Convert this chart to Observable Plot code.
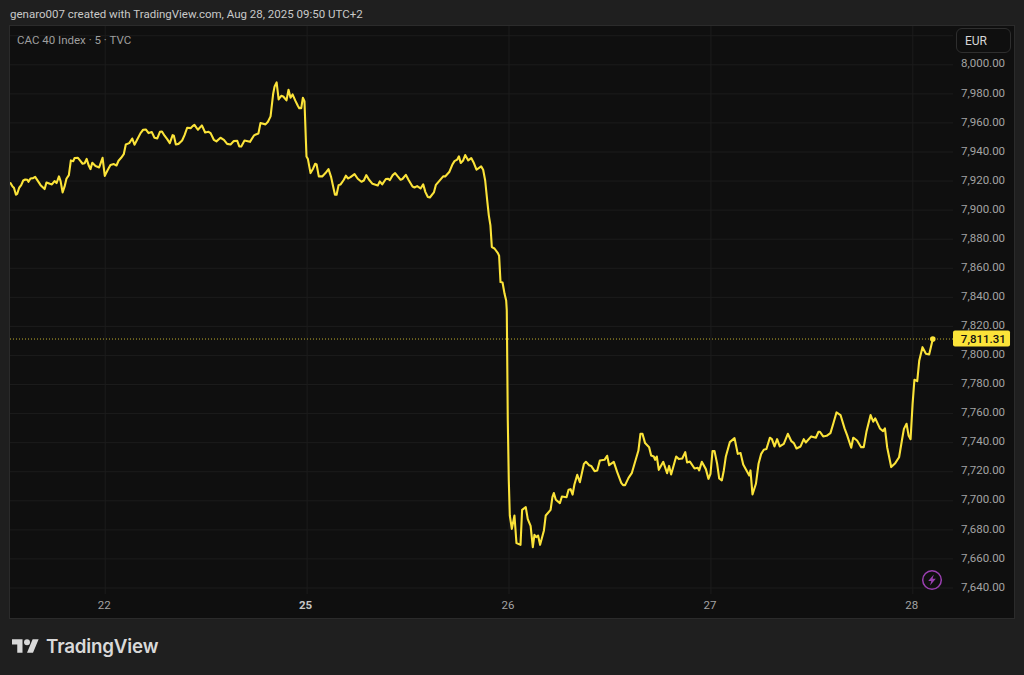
<!DOCTYPE html>
<html>
<head>
<meta charset="utf-8">
<script src="https://cdn.jsdelivr.net/npm/d3@7"></script>
<script src="https://cdn.jsdelivr.net/npm/@observablehq/plot@0.6"></script>
<style>
  html, body { margin: 0; padding: 0; background: #1f1f1f; width: 1024px; height: 675px; overflow: hidden; font-family: Roboto, sans-serif; }
  #header { height: 25px; line-height: 29px; padding-left: 10px; font-size: 11.5px; color: #c9c9c9; box-sizing: border-box; }
  #panel { position: relative; margin-left: 9px; width: 1004px; height: 592px; border: 1px solid #2b2b2b; background: #0f0f0f; }
  #panel svg { display: block; }
  #legend { position: absolute; left: 7px; top: 7px; font-size: 11.5px; color: #9e9e9e; }
  #currency { position: absolute; left: 946px; top: 2px; width: 55px; height: 25px; box-sizing: border-box; border: 1px solid #2e2e2e; border-radius: 6px; font-size: 12px; line-height: 25px; padding-left: 8px; color: #d6d6d6; background: #0f0f0f; }
  #bolt { position: absolute; left: 910px; top: 542px; }
  #footer { position: relative; height: 56px; }
  #footer svg { position: absolute; left: 12px; top: 20px; }
  #brand { position: absolute; left: 46px; top: 15px; font: 600 18.8px/26px Inter, sans-serif; color: #d9d9d9; letter-spacing: -0.2px; }
</style>
</head>
<body>
<div id="header">genaro007 created with TradingView.com, Aug 28, 2025 09:50 UTC+2</div>
<div id="panel">
  <div id="chart"></div>
  <div id="legend">CAC 40 Index · 5 · TVC</div>
  <div id="currency">EUR</div>
  <svg id="bolt" width="24" height="24" viewBox="0 0 24 24"><circle cx="12" cy="12" r="9.3" fill="none" stroke="#9a3fb0" stroke-width="1.5"/><path d="M13.8 6.5 L8.2 13 H11.3 L10 17.5 L15.8 10.8 H12.6 Z" fill="#9a3fb0"/></svg>
</div>
<div id="footer">
  <svg width="27" height="14" viewBox="0 4 36 18"><path fill="#d9d9d9" d="M14 22H7V11H0V4h14v18zM28 22h-8l7.5-18h8L28 22z"/><circle fill="#d9d9d9" cx="20" cy="8" r="4"/></svg>
  <div id="brand">TradingView</div>
</div>
<script>
const sessionTicks = [0, 1, 2, 3, 4];
const sessionLabels = ["22", "25", "26", "27", "28"];
const priceTicks = [7640, 7660, 7680, 7700, 7720, 7740, 7760, 7780, 7800, 7820, 7840, 7860, 7880, 7900, 7920, 7940, 7960, 7980, 8000];
const gridPrices = [...priceTicks, 8020];
const lastPrice = 7811.31;

const sessionPos = [
-0.469,-0.459,-0.452,-0.442,-0.436,-0.426,-0.416,-0.406,-0.396,-0.386,-0.380,-0.370,-0.357,-0.347,-0.333,-0.320,-0.300,-0.291,-0.274,-0.264,-0.251,-0.241,-0.229,-0.221,-0.211,-0.201,-0.192,-0.180,-0.170,-0.158,-0.152,-0.135,-0.125,-0.112,-0.102,-0.092,-0.081,-0.073,-0.064,-0.048,-0.030,-0.013,-0.002,
0.013,0.026,0.043,0.056,0.066,0.079,0.092,0.102,0.119,0.134,0.145,0.158,0.175,0.188,0.201,0.215,0.231,0.244,0.258,0.271,0.281,0.294,0.307,0.320,0.334,0.340,0.350,0.363,0.381,0.393,0.406,0.423,0.433,0.442,0.459,0.479,0.495,0.512,0.522,0.538,0.551,0.571,0.588,0.604,0.621,0.637,0.654,0.664,0.674,0.690,0.717,0.736,0.746,0.759,0.769,0.794,0.806,0.819,0.832,0.839,0.849,0.859,0.872,0.882,0.898,0.908,0.918,0.928,0.941,0.954,0.961,0.971,0.979,0.987,0.994,0.997,
1.004,1.017,1.030,1.040,1.047,1.058,1.075,1.091,1.106,1.119,1.129,1.138,1.146,1.156,1.166,1.182,1.192,1.202,1.215,1.235,1.251,1.269,1.281,1.293,1.307,1.324,1.350,1.360,1.372,1.390,1.400,1.410,1.423,1.436,1.449,1.463,1.472,1.489,1.502,1.522,1.532,1.545,1.562,1.575,1.586,1.598,1.608,1.628,1.638,1.654,1.674,1.684,1.704,1.719,1.730,1.743,1.752,1.761,1.773,1.783,1.798,1.813,1.826,1.839,1.862,1.872,1.882,1.892,1.900,1.908,1.915,1.928,1.945,1.951,1.958,1.968,1.978,1.986,1.989,1.994,1.999,
2.004,2.014,2.027,2.037,2.057,2.065,2.083,2.093,2.107,2.118,2.126,2.135,2.144,2.154,2.173,2.182,2.206,2.215,2.222,2.232,2.252,2.262,2.285,2.295,2.305,2.315,2.324,2.338,2.351,2.371,2.381,2.397,2.407,2.424,2.437,2.450,2.473,2.486,2.496,2.519,2.536,2.556,2.565,2.575,2.592,2.608,2.641,2.651,2.661,2.674,2.694,2.704,2.717,2.724,2.732,2.742,2.764,2.783,2.793,2.803,2.828,2.841,2.858,2.873,2.882,2.896,2.919,2.935,2.942,2.955,2.975,2.988,2.998,
3.008,3.018,3.031,3.041,3.054,3.064,3.074,3.094,3.117,3.133,3.147,3.160,3.190,3.196,3.206,3.223,3.236,3.249,3.262,3.275,3.292,3.302,3.315,3.328,3.341,3.361,3.381,3.398,3.411,3.424,3.444,3.460,3.470,3.497,3.520,3.533,3.540,3.556,3.573,3.592,3.606,3.622,3.642,3.662,3.675,3.695,3.705,3.724,3.744,3.757,3.771,3.791,3.804,3.814,3.837,3.853,3.862,3.873,3.893,3.913,3.932,3.946,3.956,3.969,3.979,3.989,3.999,
4.008,4.022,4.032,4.048,4.065,4.081,4.099];

const price = [
7918.6,7916.3,7915.4,7910.6,7911.2,7915.4,7917.2,7920.4,7921.1,7920.9,7919.5,7921.8,7922,7922.9,7920,7917.2,7914.5,7919,7918.1,7917.7,7920,7918.6,7923.2,7920,7912.2,7916.3,7921.6,7924.1,7934.2,7933.7,7935.8,7936,7934.2,7931.9,7932.3,7935.3,7930.5,7928.2,7932.6,7930.3,7929.4,7936,7923.6,
7927.8,7931,7931.7,7930.7,7934,7936,7938.5,7945.2,7946.1,7949.3,7945,7948.4,7953,7955.3,7955.5,7953,7953.7,7949.8,7949.3,7953.9,7954.1,7951.2,7948.9,7946.1,7951.6,7951.2,7945.2,7945.6,7947.9,7951.6,7956.7,7956.4,7957.8,7958.7,7955.3,7958.3,7953.4,7953.9,7953,7948.4,7947.3,7949.8,7948.4,7945.6,7945.2,7947.5,7947.7,7943.8,7943.8,7947.9,7947,7951.2,7952.1,7952.8,7959.9,7959,7960.8,7964.5,7980.1,7985.1,7987.9,7976.2,7978.7,7978.2,7975.5,7982.8,7977.3,7979.6,7975.5,7971.8,7970.2,7970.2,7977.3,7975,7947.9,7936.9,
7935.1,7925.5,7928.7,7931.9,7931.4,7923.2,7923.2,7925.5,7928.2,7922.7,7916.3,7910.6,7910.6,7917.2,7917.7,7920.9,7923.7,7921.8,7922.7,7924.8,7921.6,7919.5,7920.4,7924.1,7920.9,7918.1,7917,7919.8,7917.7,7921.4,7921.6,7920.7,7923.9,7925.5,7923.2,7920.9,7921.4,7924.3,7920.9,7916.3,7915.6,7916.5,7914.9,7917.7,7912.4,7909,7908.7,7912.2,7917.4,7920,7923.2,7923.2,7926.2,7931.2,7933.7,7934.7,7937,7932.4,7934.2,7937.9,7934.2,7935.8,7932.4,7927.8,7930.1,7927.8,7920.4,7906.7,7896.4,7889.5,7874.6,7873.6,7870.4,7868.6,7850.5,7850.2,7842.4,7837.9,7831,7755.3,7714,
7689.9,7680.7,7689.9,7670.9,7669.7,7693.8,7695.6,7687.4,7682.8,7668.1,7676.6,7675,7676.1,7669.7,7679.6,7689.9,7693.8,7702.5,7705.3,7700.7,7698.4,7703,7702.5,7707.6,7708,7704.3,7711.2,7717.9,7712.8,7725.4,7726.8,7724.5,7724,7720.4,7720.9,7727.7,7728.2,7731,7724.5,7726.8,7719.7,7712.4,7710.8,7710.8,7715.8,7719,7734.6,7746.1,7746.1,7739.7,7736.9,7731.2,7730.5,7728.2,7730.5,7721.3,7726.8,7719,7724,7718.1,7730.5,7728.7,7729.1,7733.5,7726.4,7727,7722.2,7722.7,7720.9,7726.8,7721.8,7715.1,7718.6,
7734.2,7734.2,7725.4,7715.4,7714,7720.9,7730.5,7740.4,7743.1,7732.3,7732.8,7725,7717.4,7720.9,7704.4,7711.7,7725.5,7732.3,7735.1,7735.6,7743.4,7742.4,7737.4,7742.4,7737.4,7739.2,7746.1,7741.1,7739.7,7736,7737.4,7742.4,7740.1,7744.3,7743.4,7747.5,7747.5,7744.3,7744.7,7746.6,7753,7760.8,7759,7749.8,7745,7736.5,7743.4,7741.5,7736.9,7736.9,7747.9,7759,7754.4,7756.7,7749.8,7747.9,7749.8,7736.9,7723.2,7725.9,7730,7741.5,7749.5,7753,7745,7742.4,7766.7,
7783.3,7782.3,7796.6,7805.7,7801.2,7800.7,7811.31];

const series = sessionPos.map((s, i) => ({ s, p: price[i] }));
const labelOf = d3.scaleOrdinal(sessionTicks, sessionLabels);
const yellow = "#fbe339";
const gridColor = "#1c1c1c";
const tickColor = "#a3a3a3";

const chart = Plot.plot({
  width: 1004, height: 592,
  marginLeft: 0, marginRight: 61, marginTop: 0, marginBottom: 24,
  style: { background: "transparent", fontFamily: "Roboto, sans-serif", fontSize: "11.5px" },
  x: { domain: [0, 4], range: [94.7, 902.3] },
  y: { domain: [7640, 8000], range: [561.5, 38.3] },
  marks: [
    Plot.gridY(gridPrices, { stroke: gridColor, strokeOpacity: 1, strokeWidth: 1 }),
    Plot.gridX(sessionTicks, { stroke: gridColor, strokeOpacity: 1, strokeWidth: 1 }),
    Plot.axisY({ anchor: "right", ticks: priceTicks, tickSize: 0, tickPadding: 7.5, dy: -1, tickFormat: d3.format(",.2f"), color: tickColor, label: null }),
    Plot.axisX({ ticks: [0, 2, 3, 4], tickSize: 0, tickPadding: 6, dx: -1, tickFormat: labelOf, color: tickColor, label: null }),
    Plot.axisX({ ticks: [1], tickSize: 0, tickPadding: 6, dx: -1.5, tickFormat: labelOf, color: "#c4c4c4", fontWeight: "bold", label: null }),
    Plot.ruleY([lastPrice], { stroke: yellow, strokeOpacity: 0.75, strokeWidth: 1, strokeDasharray: "1 2" }),
    Plot.line(series, { x: "s", y: "p", stroke: yellow, strokeWidth: 2.1, curve: "linear" }),
    Plot.dot(series.slice(-1), { x: "s", y: "p", r: 2.8, fill: yellow }),
    Plot.rect([lastPrice], { x1: 4.2016, x2: 4.484, y1: d => d - 5.5, y2: d => d + 5.5, fill: yellow, rx: 2 }),
    Plot.text([lastPrice], { x: 4.238, y: d => d, text: d => d3.format(",.2f")(d), textAnchor: "start", fill: "#111", fontWeight: 500 })
  ]
});
document.getElementById("chart").append(chart);
</script>
</body>
</html>
